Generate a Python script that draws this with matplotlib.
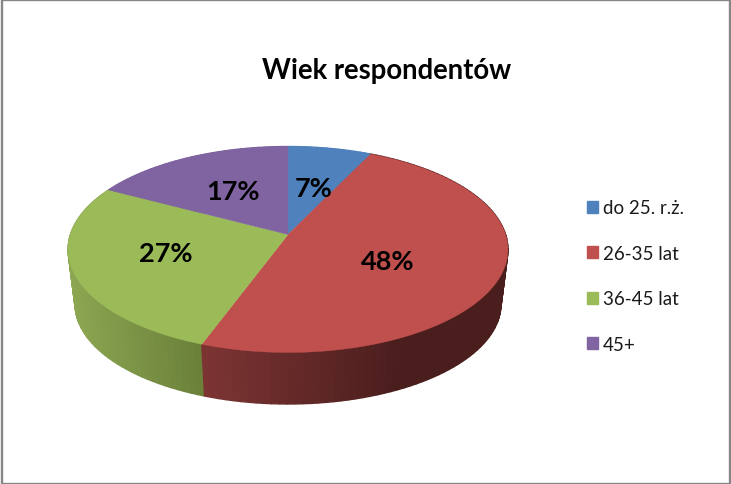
# wiek respondentow - 3d pie
import numpy as np
import matplotlib
matplotlib.use("Agg")
from matplotlib import pyplot as plt
from matplotlib.colors import to_rgb
from matplotlib.patches import Patch, Rectangle

categories = ["do 25. r.ż.", "26-35 lat", "36-45 lat", "45+"]
values = [7, 48, 27, 17]

colors = ["#4f81bd", "#c0504d", "#9bbb59", "#8064a2"]
side_light = ["#4f81bd", "#7e3534", "#8ca652", "#8064a2"]
side_dark = ["#4f81bd", "#4a1e1d", "#6b813a", "#8064a2"]
label_radius = [0.52, 0.5, 0.58, 0.54]
label_dx = [2, -4, -1, 2]
label_dy = [1, 6, -3, 0]

plt.rcParams["font.family"] = ["Lato", "DejaVu Sans"]

# perspective of the disc, in pixels
cx, cy = 288, 235.5
rx, ry, k = 217.6, 100.8, 0.1455
depth, shrink = 55.3, 0.968


def project(r, angle, scale=1.0, dy=0.0):
    x = r * np.sin(angle)
    y = r * np.cos(angle)
    w = 1 + k * y
    return cx + scale * rx * x / w, cy + dy - scale * ry * y / w


fig = plt.figure(figsize=(7.31, 4.85), dpi=100)
ax = fig.add_axes([0, 0, 1, 1])
ax.set_xlim(0, 731)
ax.set_ylim(485, 0)
ax.axis("off")

ax.add_patch(Rectangle((1.8, 1), 728.2, 483.8, fill=False, ec="#868686", lw=1.7))

shares = np.array(values) / sum(values)
edges = np.concatenate([[0], np.cumsum(shares)]) * 2 * np.pi

# side wall strips, back to front
strips = []
for i in range(len(values)):
    steps = np.linspace(edges[i], edges[i + 1], int(values[i] * 2) + 2)
    for a, b in zip(steps[:-1], steps[1:]):
        strips.append((np.cos((a + b) / 2), i, a, b))
strips.sort(key=lambda s: -s[0])

for _, i, a, b in strips:
    xa, ya = project(1, a)
    xb, yb = project(1, b)
    xc, yc = project(1, b, shrink, depth)
    xd, yd = project(1, a, shrink, depth)
    if i == 1:
        f = np.clip((xa - 202) / 200, 0, 1)
    else:
        f = np.clip((xa - 72) / 130, 0, 1)
    c = (1 - f) * np.array(to_rgb(side_light[i])) + f * np.array(to_rgb(side_dark[i]))
    ax.fill([xa, xb, xc, xd], [ya, yb, yc, yd], color=tuple(c), lw=1.0)

# top face
for i in range(len(values)):
    t = np.linspace(edges[i], edges[i + 1], 200)
    px, py = project(1, t)
    ax.fill(np.r_[cx, px], np.r_[cy, py], color=colors[i], lw=0.3)

for i in range(len(values)):
    mid = (edges[i] + edges[i + 1]) / 2
    lx, ly = project(label_radius[i], mid)
    ax.text(lx + label_dx[i], ly + label_dy[i], str(values[i]) + "%", ha="center", va="center",
            fontsize=19.5, fontweight="bold", color="black")

ax.text(386.5, 71, "Wiek respondentów", ha="center", va="center",
        fontsize=19.8, fontweight="bold", color="black")

handles = [Patch(color=c) for c in colors]
ax.legend(handles, categories, loc="center left", bbox_to_anchor=(587, 277),
          bbox_transform=ax.transData, frameon=False, fontsize=13.5,
          handlelength=0.59, handleheight=0.59, handletextpad=0.27,
          labelspacing=1.52, borderaxespad=0, borderpad=0, labelcolor="#1a1a1a")

fig.savefig("out.png", dpi=100)
